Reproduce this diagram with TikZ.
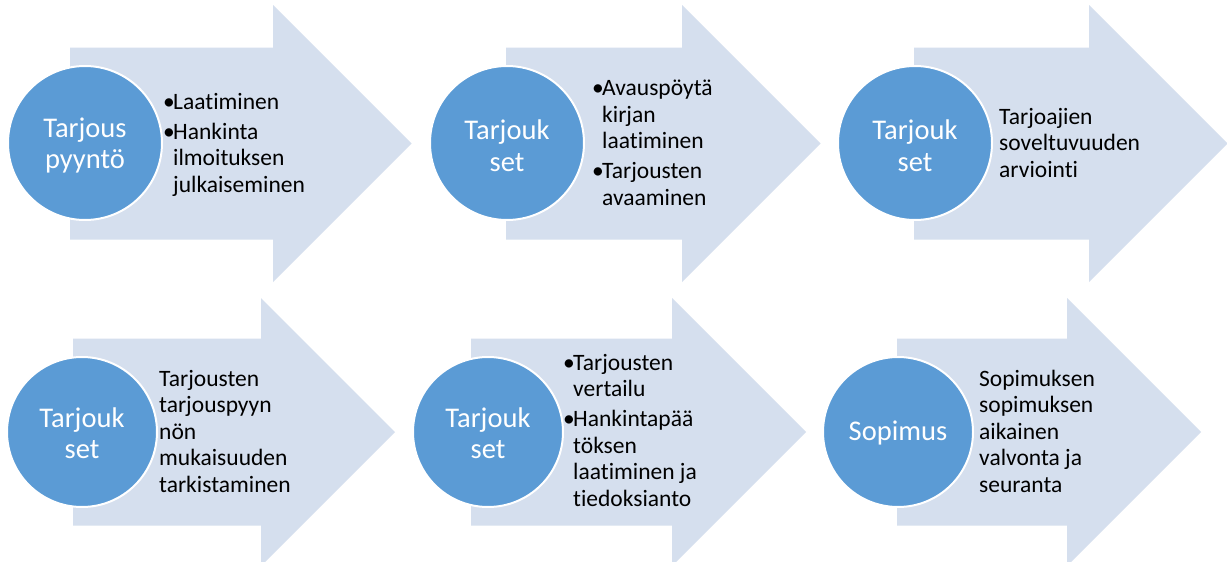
\documentclass[tikz,border=0pt]{standalone}
\usepackage{fontspec}
\setmainfont{Carlito}[Ligatures=NoCommon]
\definecolor{arrowfill}{HTML}{D5DFEE}
\definecolor{circfill}{HTML}{5B9BD5}
\newcommand{\bul}{\makebox[10pt][l]{•}}
\newcommand{\ind}{\hspace*{10pt}}
\tikzset{
  arrowshape/.style={fill=arrowfill, draw=none},
  circ/.style={circle, fill=circfill, draw=white, line width=2pt, inner sep=0pt},
  circlabel/.style={text=white, align=center, inner sep=0pt,
    font=\fontsize{28.5}{31.5}\selectfont},
  body/.style={anchor=base west, inner sep=0pt, align=left, text=black,
    font=\fontsize{23.5}{26.5}\selectfont}
}
\begin{document}
\begin{tikzpicture}[x=1pt,y=-1pt]
\useasboundingbox (0,0) rectangle (1227,562);
\clip (0,0) rectangle (1227,562);
\fill[white] (0,0) rectangle (1227,562);
% row 1 arrows
\path[arrowshape] (70,47.5) -- (273,47.5) -- (273,5) -- (411.5,143.5) -- (273,282) -- (273,239.5) -- (70,239.5) -- cycle;
\path[arrowshape] (506,47.5) -- (682,47.5) -- (682,5) -- (820.5,143.5) -- (682,282) -- (682,239.5) -- (506,239.5) -- cycle;
\path[arrowshape] (914,47.5) -- (1089,47.5) -- (1089,5) -- (1227.5,143.5) -- (1089,282) -- (1089,239.5) -- (914,239.5) -- cycle;
% row 2 arrows
\path[arrowshape] (73,338.5) -- (261,338.5) -- (261,298) -- (395,432) -- (261,566) -- (261,525.5) -- (73,525.5) -- cycle;
\path[arrowshape] (471,338.5) -- (672,338.5) -- (672,298) -- (806,432) -- (672,566) -- (672,525.5) -- (471,525.5) -- cycle;
\path[arrowshape] (897,338.5) -- (1067,338.5) -- (1067,298) -- (1201,432) -- (1067,566) -- (1067,525.5) -- (897,525.5) -- cycle;
% circles
\node[circ, minimum size=154pt] (c1) at (85,143) {};
\node[circ, minimum size=154pt] (c2) at (507,143) {};
\node[circ, minimum size=154pt] (c3) at (915,143) {};
\node[circ, minimum size=150pt] (c4) at (82,432) {};
\node[circ, minimum size=150pt] (c5) at (488,432) {};
\node[circ, minimum size=150pt] (c6) at (898,432) {};
% circle labels
\node[circlabel] (l1) at ([yshift=-2.5pt]c1.center) {Tarjous\\pyyntö};
\node[circlabel] (l2) at ([yshift=-2.5pt]c2.center) {Tarjouk\\set};
\node[circlabel] (l3) at ([yshift=-2.5pt]c3.center) {Tarjouk\\set};
\node[circlabel] (l4) at ([yshift=-1pt]c4.center) {Tarjouk\\set};
\node[circlabel] (l5) at ([yshift=-1pt]c5.center) {Tarjouk\\set};
\node[circlabel] (l6) at ([yshift=-1pt]c6.center) {Sopimus};
% texts (anchored at the baseline of their last line)
\node[body] (t1) at (163,192) {\bul Laatiminen\\[3.5pt]\bul Hankinta\\\ind ilmoituksen\\\ind julkaiseminen};
\node[body] (t2) at (592,205) {\bul Avauspöytä\\\ind kirjan\\\ind laatiminen\\[3.5pt]\bul Tarjousten\\\ind avaaminen};
\node[body] (t3) at (999,177) {Tarjoajien\\soveltuvuuden\\arviointi};
\node[body] (t4) at (159,492) {Tarjousten\\tarjouspyyn\\nön\\mukaisuuden\\tarkistaminen};
\node[body] (t5) at (563,506) {\bul Tarjousten\\\ind vertailu\\[3.5pt]\bul Hankintapää\\\ind töksen\\\ind laatiminen ja\\\ind tiedoksianto};
\node[body] (t6) at (979,492) {Sopimuksen\\sopimuksen\\aikainen\\valvonta ja\\seuranta};
\end{tikzpicture}
\end{document}
